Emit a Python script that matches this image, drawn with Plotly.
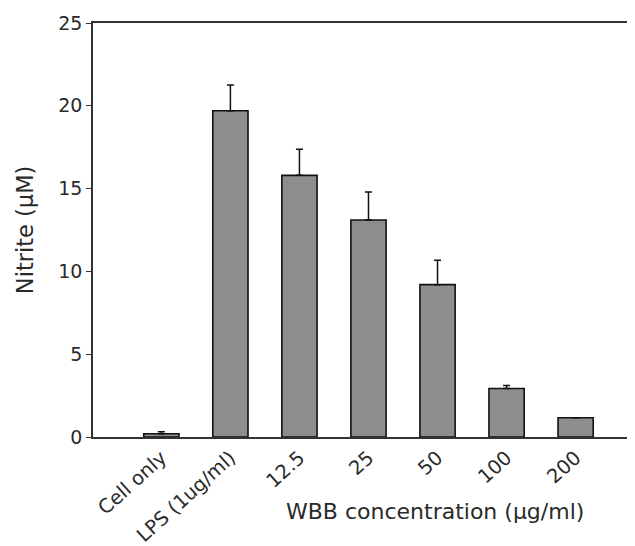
import plotly.graph_objects as go

categories = ["Cell only", "LPS (1ug/ml)", "12.5", "25", "50", "100", "200"]
nitrite = [0.2, 19.7, 15.8, 13.1, 9.2, 2.93, 1.16]
err_up = [0.12, 1.55, 1.57, 1.7, 1.47, 0.18, 0.0]
y_ticks = [0, 5, 10, 15, 20, 25]

FONT = "DejaVu Sans, Verdana, sans-serif"
TXT = "#2a2a2a"

fig = go.Figure()
fig.add_trace(go.Bar(
    x=list(range(len(categories))),
    y=nitrite,
    width=0.51,
    marker=dict(color="#8e8e8e", line=dict(color="#111111", width=1.6)),
    error_y=dict(type="data", array=err_up, arrayminus=[0] * len(err_up),
                 symmetric=False, color="#111111", thickness=1.5, width=3.5),
    showlegend=False,
))

# page body has an 8px default margin; compensate so plot sits where the reference's does
fig.update_layout(
    width=627, height=538,
    margin=dict(l=85, r=0, t=15, b=109),
    paper_bgcolor="white", plot_bgcolor="white",
    font=dict(family=FONT, size=18, color=TXT),
    xaxis=dict(
        range=[-0.99, 6.86],
        tickmode="array",
        tickvals=list(range(len(categories))),
        ticktext=categories,
        tickangle=-42,
        ticks="",
        showline=True, linecolor="#333333", linewidth=1.5,
        mirror=True,
        showgrid=False, zeroline=False,
        tickfont=dict(family=FONT, size=19.5, color=TXT),
        automargin=False,
    ),
    yaxis=dict(
        range=[0, 25],
        tickmode="array",
        tickvals=y_ticks,
        ticks="outside", ticklen=5, tickwidth=1.2, tickcolor="#333333",
        showline=True, linecolor="#333333", linewidth=1.5,
        showgrid=False, zeroline=False,
        tickfont=dict(family=FONT, size=19, color=TXT),
        automargin=False,
    ),
    annotations=[
        dict(text="WBB concentration (μg/ml)",
             xref="paper", yref="paper", x=0.631, y=-0.181,
             xanchor="center", yanchor="middle", showarrow=False,
             font=dict(family=FONT, size=22, color=TXT)),
        dict(text="Nitrite (μM)",
             xref="paper", yref="paper", x=-0.1255, y=0.502,
             xanchor="center", yanchor="middle", showarrow=False, textangle=-90,
             font=dict(family=FONT, size=22.5, color=TXT)),
    ],
)

fig.write_html("out.html")
